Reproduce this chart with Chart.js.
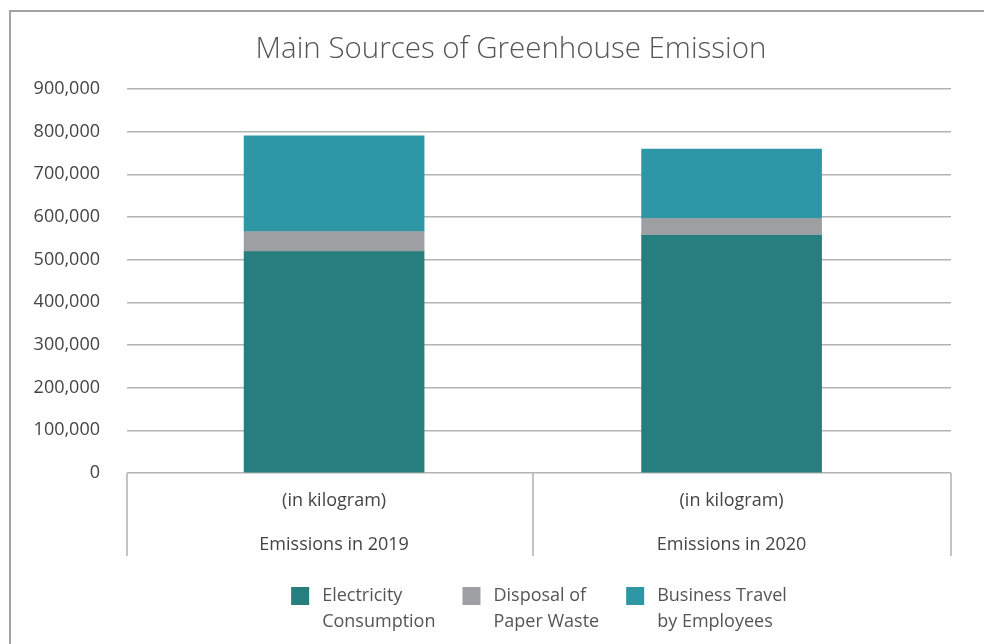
<!DOCTYPE html>
<html>
<head>
<meta charset="utf-8">
<script src="https://cdn.jsdelivr.net/npm/chart.js@4"></script>
<style>
  html, body { margin: 0; padding: 0; background: #fff; }
  #wrap { width: 984px; height: 644px; position: relative; }
</style>
</head>
<body>
<div id="wrap"><canvas id="chart"></canvas></div>
<script>
// data (kilogram)
const titleText = 'Main Sources of Greenhouse Emission';
const categories = [
    ['(in kilogram)', 'Emissions in 2019'],
    ['(in kilogram)', 'Emissions in 2020']
];
const electricity = [519000, 557000];
const paperWaste = [47000, 40000];
const businessTravel = [224000, 162000];
const seriesNames = [
    ['Electricity', 'Consumption'],
    ['Disposal of', 'Paper Waste'],
    ['Business Travel', 'by Employees']
];
const seriesColors = ['#267f7e', '#9e9fa3', '#2d97a6'];
const yTicks = [0, 100000, 200000, 300000, 400000, 500000, 600000, 700000, 800000, 900000];

const FONT = '"Open Sans", "Noto Sans", sans-serif';

// x runs on a numeric axis so the two groups sit where they sit in the original
const xMin = -0.521, xMax = 1.552;

const toPoints = arr => arr.map((v, i) => ({ x: i, y: v }));

// frame, title, group separators and the two-line legend
const decor = {
    id: 'decor',
    beforeDraw(chart) {
        const ctx = chart.ctx;
        ctx.save();
        ctx.fillStyle = '#fff';
        ctx.fillRect(0, 0, chart.width, chart.height);
        ctx.strokeStyle = '#a3a3a3';
        ctx.lineWidth = 2;
        ctx.beginPath();
        ctx.moveTo(10, chart.height);
        ctx.lineTo(10, 11);
        ctx.lineTo(chart.width, 11);
        ctx.stroke();

        ctx.fillStyle = '#555';
        ctx.font = '300 29.5px ' + FONT;
        ctx.textAlign = 'center';
        ctx.textBaseline = 'middle';
        ctx.fillText(titleText, 511, 50);
        ctx.restore();
    },
    afterDraw(chart) {
        const ctx = chart.ctx;
        const x = chart.scales.x;
        const area = chart.chartArea;
        ctx.save();
        ctx.strokeStyle = '#b0b0b0';
        ctx.lineWidth = 1.5;
        const seps = [area.left];
        for (let i = 0; i < categories.length - 1; i++) seps.push(x.getPixelForValue(i + 0.5));
        seps.push(area.right);
        seps.forEach(p => {
            const px = Math.round(p);
            ctx.beginPath();
            ctx.moveTo(px, area.bottom);
            ctx.lineTo(px, area.bottom + 83);
            ctx.stroke();
        });

        // legend
        ctx.font = '18px ' + FONT;
        ctx.textBaseline = 'middle';
        ctx.textAlign = 'left';
        const box = 18, gap = 13, between = 27;
        const widths = seriesNames.map(n => Math.max(...n.map(t => ctx.measureText(t).width)));
        const total = widths.reduce((a, w) => a + box + gap + w, 0) + between * (widths.length - 1);
        let cx = (area.left + area.right) / 2 - total / 2;
        const top = 587;
        chart.data.datasets.forEach((ds, i) => {
            ctx.fillStyle = ds.backgroundColor;
            ctx.fillRect(cx, top, box, box);
            ctx.fillStyle = '#555';
            seriesNames[i].forEach((t, j) => ctx.fillText(t, cx + box + gap, top + 9 + j * 26));
            cx += box + gap + widths[i] + between;
        });
        ctx.restore();
    }
};

const ctx = document.getElementById('chart').getContext('2d');
const chart = new Chart(ctx, {
    type: 'bar',
    data: {
        datasets: [
            { label: seriesNames[0].join(' '), data: toPoints(electricity), backgroundColor: seriesColors[0] },
            { label: seriesNames[1].join(' '), data: toPoints(paperWaste), backgroundColor: seriesColors[1] },
            { label: seriesNames[2].join(' '), data: toPoints(businessTravel), backgroundColor: seriesColors[2] }
        ]
    },
    options: {
        responsive: true,
        maintainAspectRatio: false,
        animation: false,
        layout: { padding: { left: 30, right: 33, top: 89, bottom: 71 } },
        datasets: { bar: { barThickness: 180, borderWidth: 0 } },
        plugins: {
            legend: { display: false },
            title: { display: false },
            tooltip: { enabled: false }
        },
        scales: {
            x: {
                type: 'linear',
                stacked: true,
                offset: false,
                min: xMin,
                max: xMax,
                afterBuildTicks(scale) { scale.ticks = categories.map((c, i) => ({ value: i })); },
                grid: { display: false, drawTicks: false },
                border: { display: false },
                ticks: {
                    color: '#444',
                    padding: 6,
                    maxRotation: 0,
                    autoSkip: false,
                    font: { family: FONT, size: 18, lineHeight: 44 / 18 },
                    callback: v => categories[v]
                }
            },
            y: {
                stacked: true,
                min: 0,
                max: yTicks[yTicks.length - 1],
                afterBuildTicks(scale) { scale.ticks = yTicks.map(v => ({ value: v })); },
                afterFit(scale) { scale.width = 97; },
                grid: { color: '#b3b3b3', lineWidth: 1.5, drawTicks: false },
                border: { display: false },
                ticks: {
                    color: '#444',
                    padding: 27,
                    font: { family: FONT, size: 18 },
                    callback: v => v.toLocaleString('en-US')
                }
            }
        }
    },
    plugins: [decor]
});
</script>
</body>
</html>
